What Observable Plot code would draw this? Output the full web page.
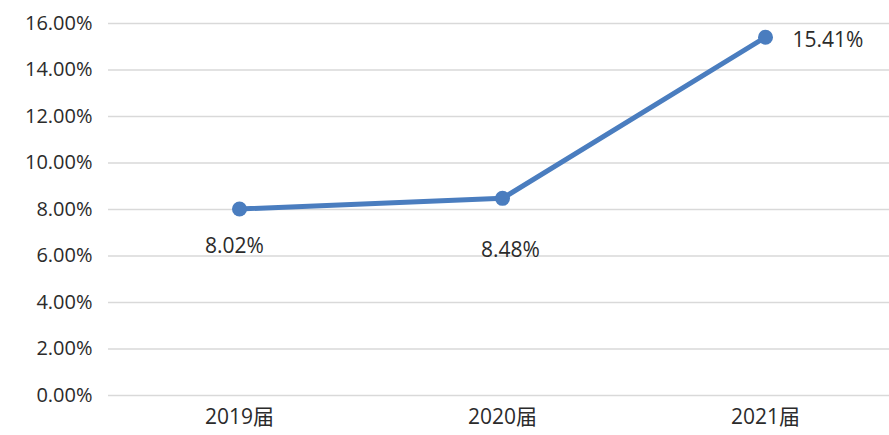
<!DOCTYPE html>
<html>
<head>
<meta charset="utf-8">
<script src="https://cdn.jsdelivr.net/npm/d3@7"></script>
<script src="https://cdn.jsdelivr.net/npm/@observablehq/plot@0.6"></script>
<style>
  html, body { margin: 0; padding: 0; background: #fff; }
  #chart svg { display: block; }
</style>
</head>
<body>
<div id="chart"></div>
<script>
const categories = ["2019届", "2020届", "2021届"];
const values = [8.02, 8.48, 15.41];
const labels = ["8.02%", "8.48%", "15.41%"];
const yTicks = [0, 2, 4, 6, 8, 10, 12, 14, 16];

const data = categories.map((c, i) => ({cat: c, v: values[i], label: labels[i]}));
const font = "'Open Sans', 'Noto Sans CJK SC', sans-serif";

const chart = Plot.plot({
  width: 889,
  height: 435,
  marginLeft: 108,
  marginRight: 0,
  marginTop: 23,
  marginBottom: 40,
  style: {fontFamily: font, fontSize: "20px", color: "#2b2b2b", background: "#fff"},
  x: {type: "point", domain: categories, range: [238, 765], padding: 0, label: null},
  y: {domain: [0, 16], ticks: yTicks, label: null},
  marks: [
    Plot.ruleY(yTicks, {stroke: "#d9d9d9", strokeWidth: 1.5}),
    Plot.axisY({ticks: yTicks, tickSize: 0, tickPadding: 16, tickFormat: d => d.toFixed(2) + "%", fontSize: 20, fill: "#2b2b2b", label: null}),
    Plot.axisX({tickSize: 0, tickPadding: 14, fontSize: 21, fill: "#2b2b2b", label: null}),
    Plot.line(data, {x: "cat", y: "v", stroke: "#4a7dbf", strokeWidth: 5}),
    Plot.dot(data, {x: "cat", y: "v", r: 7.5, fill: "#4a7dbf", stroke: "none"}),
    Plot.text(data.slice(0, 1), {x: "cat", y: "v", text: "label", dy: 37, dx: -5, fontSize: 21, fill: "#2b2b2b"}),
    Plot.text(data.slice(1, 2), {x: "cat", y: "v", text: "label", dy: 52, dx: 8, fontSize: 21, fill: "#2b2b2b"}),
    Plot.text(data.slice(2), {x: "cat", y: "v", text: "label", dx: 27, dy: 3, textAnchor: "start", fontSize: 21, fill: "#2b2b2b"})
  ]
});
document.getElementById("chart").appendChild(chart);
</script>
</body>
</html>
